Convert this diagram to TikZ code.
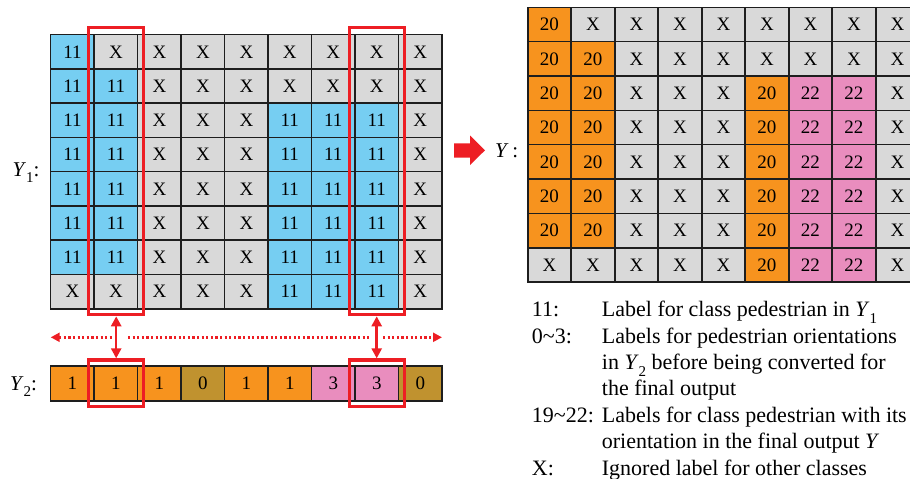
\documentclass[tikz,border=0pt]{standalone}
\usepackage{fontspec}
\setmainfont{Liberation Serif}
\usetikzlibrary{arrows.meta}
\definecolor{cb}{RGB}{118,206,242}
\definecolor{cg}{RGB}{217,217,217}
\definecolor{co}{RGB}{247,147,30}
\definecolor{cd}{RGB}{192,146,47}
\definecolor{cp}{RGB}{233,141,190}
\definecolor{cr}{RGB}{237,30,36}
\definecolor{cline}{RGB}{30,30,30}
\newcommand\lsub[1]{\raisebox{-0.3em}{\fontsize{15}{15}\selectfont #1}}
\begin{document}
\begin{tikzpicture}[x=1pt,y=-1pt,
  cell/.style={draw=cline, line width=1.6pt, minimum width=43.5pt, minimum height=34.3pt,
    inner sep=0pt, anchor=center, font=\fontsize{19}{19}\selectfont},
  redbox/.style={draw=cr, line width=3.2pt, inner sep=0pt, fill=none},
  redarrow/.style={draw=cr, line width=2.5pt, {Triangle[length=10pt,width=10pt]}-{Triangle[length=10pt,width=10pt]}},
  dotline/.style={draw=cr, line width=2.4pt, dash pattern=on 2.2pt off 2.4pt},
  lab/.style={anchor=base west, inner sep=0pt, font=\fontsize{21}{21}\selectfont},
  leg/.style={anchor=base west, inner sep=0pt, font=\fontsize{22}{26.4}\selectfont}]
\useasboundingbox (0,0) rectangle (910,479);
\clip (0,0) rectangle (910,479);
% left grid Y1
\foreach \row [count=\r from 0] in {
  {cb/11,cg/X,cg/X,cg/X,cg/X,cg/X,cg/X,cg/X,cg/X},
  {cb/11,cb/11,cg/X,cg/X,cg/X,cg/X,cg/X,cg/X,cg/X},
  {cb/11,cb/11,cg/X,cg/X,cg/X,cb/11,cb/11,cb/11,cg/X},
  {cb/11,cb/11,cg/X,cg/X,cg/X,cb/11,cb/11,cb/11,cg/X},
  {cb/11,cb/11,cg/X,cg/X,cg/X,cb/11,cb/11,cb/11,cg/X},
  {cb/11,cb/11,cg/X,cg/X,cg/X,cb/11,cb/11,cb/11,cg/X},
  {cb/11,cb/11,cg/X,cg/X,cg/X,cb/11,cb/11,cb/11,cg/X},
  {cg/X,cg/X,cg/X,cg/X,cg/X,cb/11,cb/11,cb/11,cg/X}}{
  \foreach \col/\txt [count=\c from 0] in \row {
    \node[cell, fill=\col] (L-\r-\c) at ({50.7+43.48*(\c+0.5)},{34.7+34.25*(\r+0.5)}) {\txt};
  }
}
% right grid Y
\foreach \row [count=\r from 0] in {
  {co/20,cg/X,cg/X,cg/X,cg/X,cg/X,cg/X,cg/X,cg/X},
  {co/20,co/20,cg/X,cg/X,cg/X,cg/X,cg/X,cg/X,cg/X},
  {co/20,co/20,cg/X,cg/X,cg/X,co/20,cp/22,cp/22,cg/X},
  {co/20,co/20,cg/X,cg/X,cg/X,co/20,cp/22,cp/22,cg/X},
  {co/20,co/20,cg/X,cg/X,cg/X,co/20,cp/22,cp/22,cg/X},
  {co/20,co/20,cg/X,cg/X,cg/X,co/20,cp/22,cp/22,cg/X},
  {co/20,co/20,cg/X,cg/X,cg/X,co/20,cp/22,cp/22,cg/X},
  {cg/X,cg/X,cg/X,cg/X,cg/X,co/20,cp/22,cp/22,cg/X}}{
  \foreach \col/\txt [count=\c from 0] in \row {
    \node[cell, fill=\col] (R-\r-\c) at ({527.7+43.5*(\c+0.5)},{7.3+34.34*(\r+0.5)}) {\txt};
  }
}
% Y2 row
\foreach \col/\txt [count=\c from 0] in {co/1,co/1,co/1,cd/0,co/1,co/1,cp/3,cp/3,cd/0}{
  \node[cell, fill=\col, minimum height=35pt] (S-\c) at ({50.7+43.48*(\c+0.5)},383.5) {\txt};
}
% red boxes
\node[redbox, minimum width=55pt, minimum height=287.4pt] (TB1) at (116.2,171) {};
\node[redbox, minimum width=55pt, minimum height=287.4pt] (TB2) at (376.7,171) {};
\node[redbox, minimum width=55pt, minimum height=46.7pt] (BB1) at (116.2,383.3) {};
\node[redbox, minimum width=55pt, minimum height=46.7pt] (BB2) at (376.7,383.3) {};
% vertical arrows
\draw[redarrow] (TB1.south) -- (BB1.north);
\draw[redarrow] (TB2.south) -- (BB2.north);
% dotted arrow
\coordinate (d0) at (50.7,337.3);
\coordinate (d1) at (111.5,337.3);
\coordinate (d2) at (128,337.3);
\coordinate (d3) at (368.5,337.3);
\coordinate (d4) at (383,337.3);
\coordinate (d5) at (442,337.3);
\draw[dotline, {Triangle[length=9pt,width=9pt]}-] (d0) -- (d1);
\draw[dotline] (d2) -- (d3);
\draw[dotline, -{Triangle[length=9pt,width=9pt]}] (d4) -- (d5);
% labels
\node[lab] (y1) at (12.5,176) {\textit{Y}\lsub{1}:};
\node[lab] (y2) at (10,390) {\textit{Y}\lsub{2}:};
\node[lab] (y) at (495,157) {\textit{Y}\,:};
% block arrow
\fill[cr] (454,143.3) -- (470,143.3) -- (470,135.5) -- (485,150.3) -- (470,165) -- (470,157.7) -- (454,157.7) -- cycle;
% legend
\node[leg] (k1) at (531.7,316.7) {11:};
\node[leg] (t1) at (601.7,316.7) {Label for class pedestrian in \textit{Y}\lsub{1}};
\node[leg] (k2) at (531.7,343.1) {0\textasciitilde 3:};
\node[leg] (t2) at (601.7,343.1) {Labels for pedestrian orientations};
\node[leg] (t3) at (601.7,369.5) {in \textit{Y}\lsub{2} before being converted for};
\node[leg] (t4) at (601.7,395.9) {the final output};
\node[leg] (k5) at (531.7,422.3) {19\textasciitilde 22:};
\node[leg] (t5) at (601.7,422.3) {Labels for class pedestrian with its};
\node[leg] (t6) at (601.7,448.7) {orientation in the final output \textit{Y}};
\node[leg] (k7) at (531.7,475.1) {X:};
\node[leg] (t7) at (601.7,475.1) {Ignored label for other classes};
\end{tikzpicture}
\end{document}
